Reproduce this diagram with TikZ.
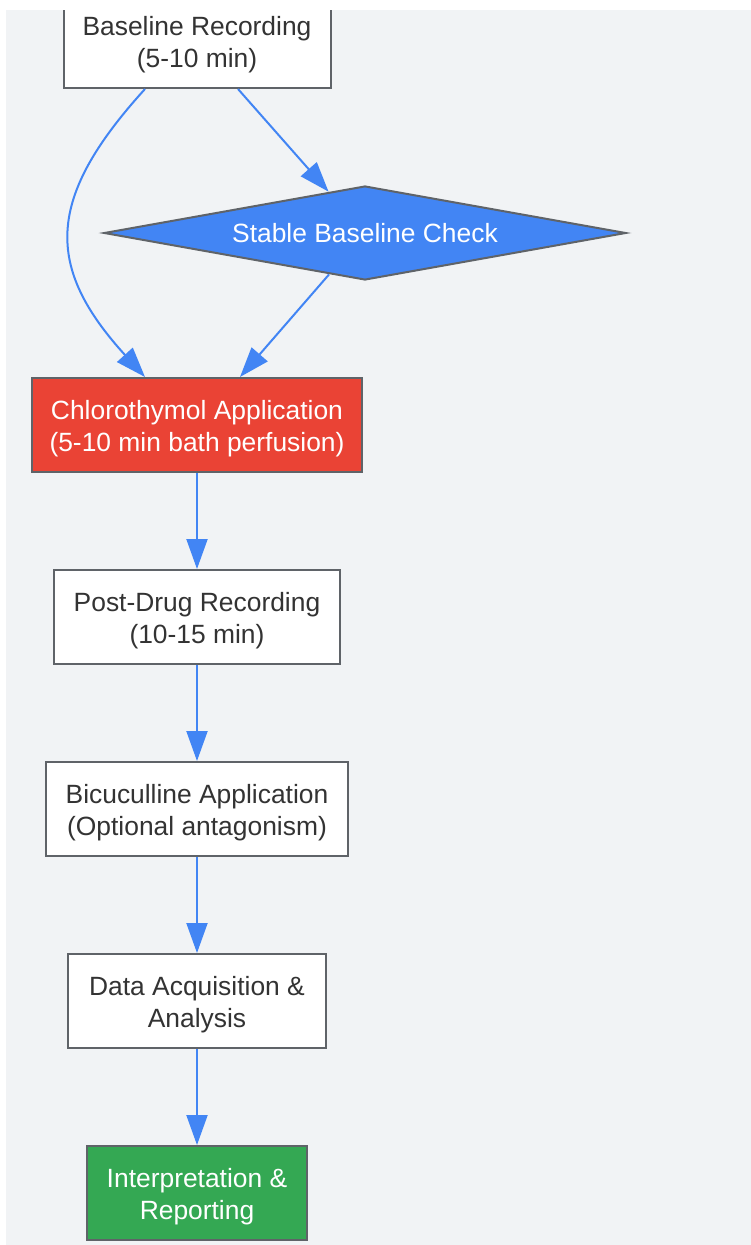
\documentclass[tikz,border=0pt]{standalone}
\usepackage{fontspec}
\setmainfont{Liberation Sans}
\usetikzlibrary{arrows.meta}
\usetikzlibrary{positioning}
\usetikzlibrary{shapes.geometric}

\definecolor{bgcol}{HTML}{F1F3F5}
\definecolor{edgecol}{HTML}{4285F4}
\definecolor{bordercol}{HTML}{5F6368}
\definecolor{txtcol}{HTML}{333333}
\definecolor{redcol}{HTML}{EA4335}
\definecolor{greencol}{HTML}{34A853}

\begin{document}
\begin{tikzpicture}[x=1pt,y=-1pt,node distance=96pt,
					>={Triangle[length=30pt,width=21pt]},
					every edge/.style={draw=edgecol,line width=2pt}]
					\tikzstyle{stepbox}=[shape=rectangle,draw=bordercol,line width=2pt,fill=white,
					text=txtcol,align=center,minimum height=94pt,text height=59.2pt,
					font=\fontsize{26.4}{32}\selectfont]
					\tikzstyle{check}=[shape=diamond,draw=bordercol,line width=2pt,fill=edgecol,
					text=white,aspect=5.46,inner sep=0pt,minimum width=522pt,minimum height=94pt,
					font=\fontsize{26.4}{32}\selectfont]
					
					\useasboundingbox (0,0) rectangle (751,1245);
					\fill[bgcol] (6,10) rectangle (751,1245);
					\clip (6,10) rectangle (751,1245);
					
					\node[stepbox,minimum width=267pt] (base) at (197,41) {Baseline Recording\\(5-10 min)};
					\node[check] (dia) at (365,233) {Stable Baseline Check};
					\node[stepbox,minimum width=330pt,fill=redcol,text=white] (chloro) at (197,425) {Chlorothymol Application\\(5-10 min bath perfusion)};
					\node[stepbox,minimum width=286pt] (post) [below=of chloro] {Post-Drug Recording\\(10-15 min)};
					\node[stepbox,minimum width=302pt] (bicu) [below=of post] {Bicuculline Application\\(Optional antagonism)};
					\node[stepbox,minimum width=258pt] (data) [below=of bicu] {Data Acquisition \&\\Analysis};
					\node[stepbox,minimum width=220pt,fill=greencol,text=white] (interp) [below=of data] {Interpretation \&\\Reporting};
					
					\path[->] ([xshift=41pt]base.south) edge (dia)
					([xshift=-52pt]base.south) edge[to path={.. controls (45,199) and (45,267) .. (\tikztotarget)}] ([xshift=-52pt]chloro.north)
					(dia) edge ([xshift=43pt]chloro.north)
					(chloro) edge (post)
					(post) edge (bicu)
					(bicu) edge (data)
					(data) edge (interp)
					;
					\end{tikzpicture}
\end{document}
